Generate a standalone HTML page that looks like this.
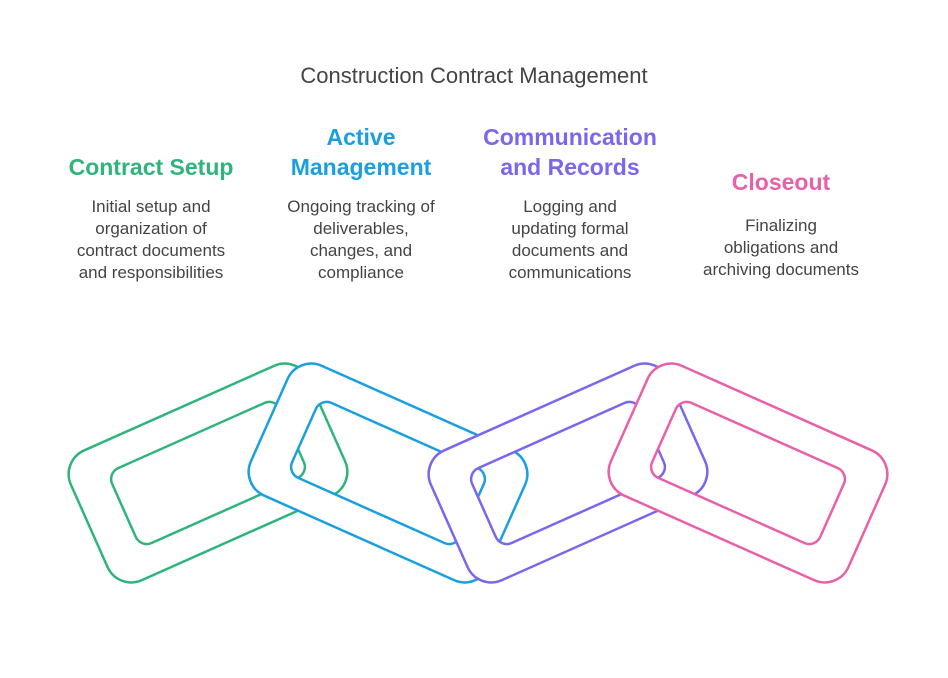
<!DOCTYPE html>
<html><head><style>
body{margin:0;width:948px;height:678px;background:#fff;position:relative;font-family:"Liberation Sans",sans-serif;overflow:hidden}
.t{position:absolute;left:0;width:948px;top:63px;text-align:center;font-size:22px;color:#444}
.c{position:absolute;width:190px;text-align:center}
.h{font-weight:bold;font-size:23px;line-height:30px}
.b{font-size:17px;line-height:22px;color:#444;margin:14px auto 0;width:168px}
</style></head><body>
<div class="t">Construction Contract Management</div>
<div class="c" style="left:56px;top:152px"><div class="h" style="color:#2fb47c">Contract Setup</div><div class="b">Initial setup and organization of contract documents and responsibilities</div></div>
<div class="c" style="left:266px;top:122px"><div class="h" style="color:#1a9fe0">Active Management</div><div class="b" style="width:165px">Ongoing tracking of deliverables, changes, and compliance</div></div>
<div class="c" style="left:475px;top:122px"><div class="h" style="color:#7b66ec">Communication and Records</div><div class="b" style="width:150px">Logging and updating formal documents and communications</div></div>
<div class="c" style="left:686px;top:167px"><div class="h" style="color:#e860a8">Closeout</div><div class="b" style="width:190px;margin-top:18px;white-space:nowrap">Finalizing<br>obligations and<br>archiving documents</div></div>
<svg width="948" height="678" style="position:absolute;left:0;top:0">
<defs>
<path id="ring" fill-rule="evenodd" d="M-104,-71 H104 A26,26 0 0 1 130,-45 V45 A26,26 0 0 1 104,71 H-104 A26,26 0 0 1 -130,45 V-45 A26,26 0 0 1 -104,-71 Z M-80,-41 H80 A12,12 0 0 1 92,-29 V29 A12,12 0 0 1 80,41 H-80 A12,12 0 0 1 -92,29 V-29 A12,12 0 0 1 -80,-41 Z"/>
</defs>
<g fill="#fff" stroke-width="2.5">
<use href="#ring" transform="translate(208,473) rotate(-24)" stroke="#2fb47c"/>
<use href="#ring" transform="translate(388,473) rotate(24)" stroke="#1a9fe0"/>
<use href="#ring" transform="translate(568,473) rotate(-24)" stroke="#7b66ec"/>
<use href="#ring" transform="translate(748,473) rotate(24)" stroke="#e860a8"/>
</g>
</svg>
</body></html>
